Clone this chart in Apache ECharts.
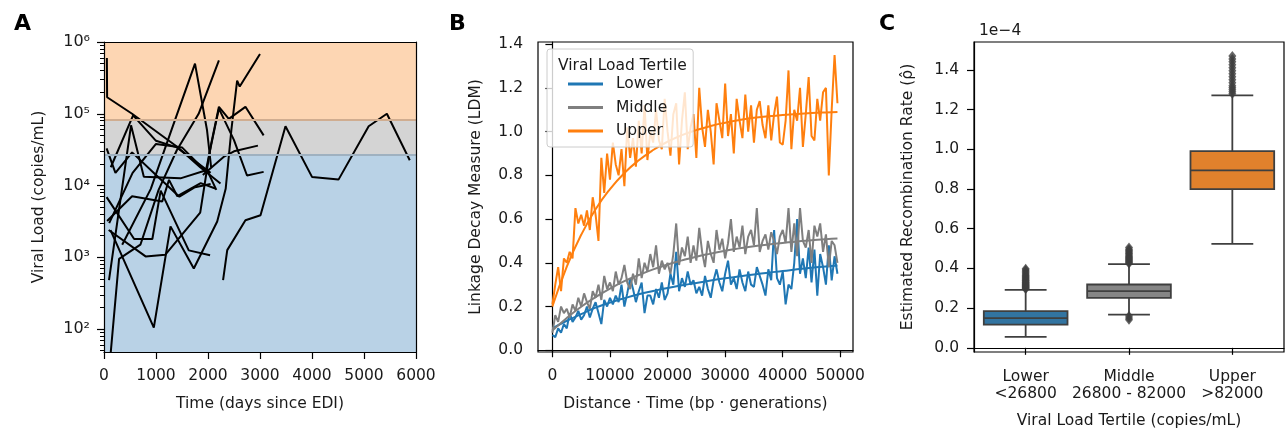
<!DOCTYPE html>
<html>
<head>
<meta charset="utf-8">
<script src="https://cdn.jsdelivr.net/npm/echarts@6/dist/echarts.min.js"></script>
<style>
html,body{margin:0;padding:0;background:#fff;}
#chart{width:1287px;height:430px;}
</style>
</head>
<body>
<div id="chart"></div>
<script>
// ---------- Panel A: viral load trajectories (days since EDI, copies/mL) ----------
const pt01 = [[55,600000],[60,170000],[540,100000],[1400,35000],[1850,18000],[2240,10700]];
const pt02 = [[130,18000],[560,95000],[1000,42000],[1400,34000],[2050,15000]];
const pt03 = [[125,2400],[958,105],[1279,2700],[1727,700],[2177,3160],[2340,9000],[2450,60000],[2560,290000],[2610,240000],[3000,680000]];
const pt04 = [[2290,480],[2370,1260],[2720,3290],[3010,3860],[3490,67000],[4000,13200],[4510,12100],[5090,67000],[5440,100000],[5880,22500]];
const pt05 = [[96,480],[520,69000],[766,13300],[1470,12600],[1980,16500],[2160,8700]];
const pt06 = [[50,33000],[220,15000],[540,29000],[1000,14000],[1450,7000],[1750,9500],[2050,10500]];
const pt07 = [[60,3200],[540,7100],[1120,6000],[1250,12000],[1410,7100],[1860,10800],[2140,9100]];
const pt08 = [[50,6900],[580,1800],[930,1800],[1090,8500],[1630,1250],[2040,1070]];
const pt09 = [[90,2400],[800,1030],[1180,1090],[1850,4200],[2050,35000],[2210,125000],[2400,85000],[2720,125000],[3070,50000]];
const pt10 = [[1950,15000],[2100,50000],[2210,118000],[2500,43000],[2750,13800],[3070,15500]];
const pt11 = [[1900,14000],[2300,25000],[2500,30000],[2960,36000]];
const pt12 = [[350,1500],[900,9000],[1300,60000],[1750,500000],[1980,60000],[2060,18000]];
const pt13 = [[128,46],[290,950],[700,1500],[1050,8700],[1400,31000],[1820,100000],[2210,556000]];
const pt14 = [[100,3000],[550,15000],[1000,38000],[1500,34000],[1950,16000]];
const patients = [pt01,pt02,pt03,pt04,pt05,pt06,pt07,pt08,pt09,pt10,pt11,pt12,pt13,pt14];
const tertileCuts = [26800, 82000];
const vlMajorTicks = [100, 1000, 10000, 100000, 1000000];
const vlMinorTicks = [50,60,70,80,90,200,300,400,500,600,700,800,900,2000,3000,4000,5000,6000,7000,8000,9000,
  20000,30000,40000,50000,60000,70000,80000,90000,200000,300000,400000,500000,600000,700000,800000,900000];
const daysTicks = [0,1000,2000,3000,4000,5000,6000];

// ---------- Panel B: linkage decay (x step 500 bp·gen) ----------
const ldmX = [];
for (let i = 0; i < 100; i++) ldmX.push(i * 500);
const ldmLower = [0.07,0.06,0.10,0.08,0.12,0.10,0.17,0.13,0.15,0.18,
  0.14,0.16,0.20,0.15,0.19,0.22,0.17,0.12,0.23,0.20,
  0.24,0.21,0.25,0.22,0.30,0.20,0.26,0.33,0.28,0.22,
  0.27,0.31,0.17,0.25,0.25,0.21,0.28,0.24,0.31,0.23,
  0.26,0.35,0.30,0.45,0.27,0.33,0.29,0.36,0.30,0.32,
  0.26,0.29,0.25,0.34,0.28,0.24,0.32,0.37,0.31,0.27,
  0.35,0.41,0.30,0.33,0.28,0.37,0.31,0.27,0.36,0.30,
  0.29,0.38,0.34,0.30,0.25,0.37,0.32,0.55,0.33,0.30,
  0.36,0.21,0.30,0.28,0.40,0.60,0.35,0.42,0.33,0.47,
  0.31,0.46,0.25,0.44,0.38,0.30,0.48,0.32,0.43,0.35];
const ldmMiddle = [0.08,0.16,0.13,0.20,0.17,0.19,0.15,0.21,0.18,0.24,
  0.20,0.26,0.22,0.19,0.27,0.24,0.30,0.23,0.34,0.28,
  0.31,0.27,0.36,0.30,0.33,0.39,0.31,0.28,0.35,0.30,
  0.42,0.33,0.40,0.36,0.44,0.38,0.48,0.35,0.41,0.37,
  0.40,0.35,0.44,0.58,0.39,0.47,0.43,0.52,0.40,0.48,
  0.41,0.56,0.45,0.38,0.50,0.44,0.40,0.55,0.46,0.51,
  0.42,0.49,0.60,0.45,0.52,0.47,0.57,0.44,0.52,0.55,
  0.48,0.65,0.45,0.50,0.53,0.46,0.54,0.50,0.44,0.52,
  0.55,0.49,0.65,0.45,0.58,0.43,0.65,0.50,0.47,0.55,
  0.40,0.57,0.52,0.58,0.45,0.53,0.38,0.50,0.48,0.40];
const ldmUpper = [0.21,0.30,0.38,0.27,0.42,0.40,0.45,0.42,0.65,0.58,
  0.62,0.57,0.64,0.55,0.70,0.62,0.50,0.88,0.72,0.90,
  0.78,0.95,0.85,0.80,0.92,0.75,1.02,0.88,0.97,0.84,
  1.05,0.90,1.12,0.87,1.00,0.95,1.10,0.96,0.92,1.15,
  1.00,0.89,1.08,1.13,0.85,1.05,1.18,0.92,1.02,1.08,
  0.88,1.20,1.02,0.93,1.10,1.00,0.85,1.13,1.05,0.97,
  1.22,0.98,1.08,0.90,1.15,1.05,0.97,1.17,1.00,1.12,
  0.95,1.10,1.14,1.03,0.97,1.12,0.96,1.08,1.16,0.95,
  0.94,1.05,1.28,0.92,1.10,1.05,1.20,0.93,1.08,1.25,
  0.98,0.96,1.15,1.05,1.18,1.20,0.80,1.10,1.35,1.13];
const fitX = [0,2500,5000,7500,10000,12500,15000,17500,20000,22500,25000,27500,30000,32500,35000,37500,40000,42500,45000,47500,49500];
const fitLower = [0.100,0.135,0.165,0.195,0.218,0.238,0.256,0.271,0.285,0.297,0.308,0.319,0.329,0.338,0.347,0.355,0.362,0.370,0.377,0.383,0.388];
const fitMiddle = [0.090,0.148,0.199,0.243,0.282,0.316,0.344,0.370,0.392,0.411,0.428,0.442,0.455,0.466,0.476,0.484,0.491,0.498,0.503,0.508,0.511];
const fitUpper = [0.200,0.383,0.528,0.645,0.737,0.811,0.869,0.916,0.954,0.984,1.007,1.026,1.041,1.053,1.063,1.070,1.076,1.081,1.085,1.088,1.090];
const ldmTicks = [0,10000,20000,30000,40000,50000];
const ldmYTicks = [0,0.2,0.4,0.6,0.8,1.0,1.2,1.4];

// ---------- Panel C: recombination rate boxplots (units of 1e-4) ----------
const tertileLabels = ['Lower\n<26800', 'Middle\n26800 - 82000', 'Upper\n>82000'];
// [whiskerLow, Q1, median, Q3, whiskerHigh]
const boxLower = [0.055, 0.117, 0.150, 0.185, 0.292];
const boxMiddle = [0.167, 0.252, 0.286, 0.319, 0.421];
const boxUpper = [0.523, 0.799, 0.894, 0.991, 1.271];
const outLower = [0.296,0.300,0.303,0.306,0.310,0.313,0.317,0.320,0.324,0.328,0.332,0.336,0.340,0.345,0.350,0.355,0.360,0.366,0.372,0.378,0.385,0.392,0.398];
const outMiddle = [0.425,0.430,0.435,0.440,0.445,0.450,0.455,0.460,0.466,0.472,0.478,0.484,0.490,0.497,0.505,0.160,0.150,0.142];
const outUpper = [1.280,1.290,1.300,1.310,1.320,1.335,1.350,1.365,1.380,1.395,1.410,1.425,1.440,1.455,1.470];
const rhoTicks = [0,0.2,0.4,0.6,0.8,1.0,1.2,1.4];

// ---------- styling ----------
const FONT = 'DejaVu Sans';
const FS = 15.5;
const TXT = '#1a1a1a';
const C_BLUE = '#1f77b4', C_GRAY = '#7f7f7f', C_ORANGE = '#ff7f0e';
const BOX_COLORS = ['#3274a1', '#858585', '#e1812c'];
const BOX_LINE = '#3f3f3f';
const SUP = {'0':'\u2070','1':'\u00b9','2':'\u00b2','3':'\u00b3','4':'\u2074','5':'\u2075','6':'\u2076','7':'\u2077','8':'\u2078','9':'\u2079'};

const gridA = {left:104, top:42, width:312, height:310};
const gridB = {left:538, top:42, width:315, height:310};
const gridC = {left:974, top:42, width:310, height:310};

const axisLineBlack = {show:true, lineStyle:{color:'#000', width:1.2}};
const tickOut = {show:true, inside:false, length:7, lineStyle:{color:'#000', width:1.2}};
const lbl = {color:TXT, fontFamily:FONT, fontSize:FS};
const nameStyle = {color:TXT, fontFamily:FONT, fontSize:FS};

const series = [];

// Panel A bands (drawn via a helper series)
series.push({
  type:'line', xAxisIndex:0, yAxisIndex:0, data:[], silent:true, z:1,
  markArea:{silent:true, data:[
    [{yAxis:tertileCuts[1], itemStyle:{color:'#fdd6b3'}}, {yAxis:1000000}],
    [{yAxis:tertileCuts[0], itemStyle:{color:'#d4d4d4'}}, {yAxis:tertileCuts[1]}],
    [{yAxis:48, itemStyle:{color:'#b9d2e6'}}, {yAxis:tertileCuts[0]}]
  ]},
  markLine:{silent:true, symbol:'none', label:{show:false}, data:[
    {yAxis:tertileCuts[1], lineStyle:{color:'#d0ad90', width:2, type:'solid'}},
    {yAxis:tertileCuts[0], lineStyle:{color:'#9fb1c0', width:2, type:'solid'}}
  ]}
});
patients.forEach((p, i) => {
  series.push({type:'line', name:'pt'+(i+1), xAxisIndex:0, yAxisIndex:0, data:p,
    showSymbol:false, symbol:'none', lineStyle:{color:'#000', width:2}, z:3, silent:true});
});

// Panel B
function zipXY(xs, ys){ return xs.map((x,i)=>[x, ys[i]]); }
const bSeries = [
  ['Lower', ldmLower, fitLower, C_BLUE],
  ['Middle', ldmMiddle, fitMiddle, C_GRAY],
  ['Upper', ldmUpper, fitUpper, C_ORANGE]
];
bSeries.forEach(([nm, ys, fy, col]) => {
  series.push({type:'line', name:nm, xAxisIndex:2, yAxisIndex:3, data:zipXY(ldmX, ys),
    showSymbol:false, symbol:'none', lineStyle:{color:col, width:2}, itemStyle:{color:col}, silent:true});
  series.push({type:'line', name:nm+' fit', xAxisIndex:2, yAxisIndex:3, data:zipXY(fitX, fy),
    smooth:true, showSymbol:false, symbol:'none', lineStyle:{color:col, width:2}, itemStyle:{color:col}, silent:true});
});

// Panel C boxes
const boxes = [boxLower, boxMiddle, boxUpper];
series.push({
  type:'custom', xAxisIndex:3, yAxisIndex:4, silent:true, z:3,
  data: boxes.map((b,i)=>[i].concat(b)),
  renderItem: function(params, api){
    const idx = api.value(0);
    const lo = api.coord([idx, api.value(1)]);
    const q1 = api.coord([idx, api.value(2)]);
    const md = api.coord([idx, api.value(3)]);
    const q3 = api.coord([idx, api.value(4)]);
    const hi = api.coord([idx, api.value(5)]);
    const bw = api.size([1, 0])[0] * 0.81;
    const half = bw/2, cap = bw/4, x = lo[0];
    const ls = {stroke:BOX_LINE, lineWidth:1.8};
    return {type:'group', children:[
      {type:'line', shape:{x1:x,y1:lo[1],x2:x,y2:q1[1]}, style:ls},
      {type:'line', shape:{x1:x,y1:q3[1],x2:x,y2:hi[1]}, style:ls},
      {type:'line', shape:{x1:x-cap,y1:lo[1],x2:x+cap,y2:lo[1]}, style:ls},
      {type:'line', shape:{x1:x-cap,y1:hi[1],x2:x+cap,y2:hi[1]}, style:ls},
      {type:'rect', shape:{x:x-half, y:q3[1], width:bw, height:q1[1]-q3[1]},
        style:{fill:BOX_COLORS[params.dataIndex], stroke:BOX_LINE, lineWidth:1.8}},
      {type:'line', shape:{x1:x-half,y1:md[1],x2:x+half,y2:md[1]}, style:ls}
    ]};
  }
});
const outliers = [outLower, outMiddle, outUpper];
outliers.forEach((arr, i) => {
  series.push({type:'scatter', xAxisIndex:3, yAxisIndex:4, silent:true, z:4,
    data: arr.map(v=>[i, v]), symbol:'diamond', symbolSize:[8,10],
    itemStyle:{color:BOX_LINE}});
});

const plain = v => String(v);

const option = {
  animation:false,
  backgroundColor:'#fff',
  textStyle:{fontFamily:FONT},
  title:[
    {text:'A', left:9, top:8, textStyle:{fontFamily:FONT, fontSize:22, fontWeight:'bold', color:'#000'}},
    {text:'B', left:444, top:8, textStyle:{fontFamily:FONT, fontSize:22, fontWeight:'bold', color:'#000'}},
    {text:'C', left:874, top:8, textStyle:{fontFamily:FONT, fontSize:22, fontWeight:'bold', color:'#000'}},
    {text:'1e\u22124', left:974, top:18, textStyle:{fontFamily:FONT, fontSize:FS, fontWeight:'normal', color:TXT}},
    {text:'Viral Load Tertile', left:553, top:53, z:12, textStyle:{fontFamily:FONT, fontSize:FS, fontWeight:'normal', color:TXT}}
  ],
  legend:{
    data:[{name:'Lower'},{name:'Middle'},{name:'Upper'}],
    orient:'vertical', left:547, top:49, z:11,
    icon:'rect', itemWidth:35, itemHeight:3, itemGap:7.5,
    padding:[27, 26, 8, 21],
    backgroundColor:'rgba(255,255,255,0.8)', borderColor:'#cccccc', borderWidth:1, borderRadius:3,
    textStyle:{fontFamily:FONT, fontSize:FS, color:TXT, padding:[0,0,0,8]},
    selectedMode:false
  },
  grid:[
    Object.assign({show:false, outerBoundsMode:'none', containLabel:false}, gridA),
    Object.assign({show:true, borderColor:'#000', borderWidth:1.2, backgroundColor:'transparent', outerBoundsMode:'none', containLabel:false}, gridB),
    Object.assign({show:true, borderColor:'#000', borderWidth:1.2, backgroundColor:'transparent', outerBoundsMode:'none', containLabel:false}, gridC)
  ],
  xAxis:[
    {gridIndex:0, type:'value', min:0, max:6000, interval:1000, position:'bottom', z:5,
      axisLine:axisLineBlack, axisTick:tickOut, splitLine:{show:false},
      axisLabel:Object.assign({margin:16, showMinLabel:true, showMaxLabel:true, formatter:plain}, lbl),
      name:'Time (days since EDI)', nameLocation:'middle', nameGap:44, nameTextStyle:nameStyle},
    {gridIndex:0, type:'value', min:0, max:6000, position:'top', z:5,
      axisLine:axisLineBlack, axisTick:{show:false}, axisLabel:{show:false}, splitLine:{show:false}},
    {gridIndex:1, type:'value', min:-2500, max:52200, position:'bottom',
      axisLine:axisLineBlack, axisTick:Object.assign({customValues:ldmTicks}, tickOut), splitLine:{show:false},
      axisLabel:Object.assign({margin:16, customValues:ldmTicks, formatter:plain}, lbl),
      name:'Distance \u00b7 Time (bp \u00b7 generations)', nameLocation:'middle', nameGap:44, nameTextStyle:nameStyle},
    {gridIndex:2, type:'category', data:tertileLabels, boundaryGap:true, position:'bottom',
      axisLine:axisLineBlack, axisTick:Object.assign({alignWithLabel:true, interval:0}, tickOut), splitLine:{show:false},
      axisLabel:Object.assign({margin:16, interval:0, lineHeight:17}, lbl),
      name:'Viral Load Tertile (copies/mL)', nameLocation:'middle', nameGap:61, nameTextStyle:nameStyle}
  ],
  yAxis:[
    {gridIndex:0, type:'log', logBase:10, min:48, max:1000000, position:'left', z:5,
      axisLine:axisLineBlack, axisTick:Object.assign({customValues:vlMajorTicks}, tickOut), splitLine:{show:false}, minorTick:{show:false},
      axisLabel:Object.assign({margin:14, customValues:vlMajorTicks,
        formatter:function(v){ const e = String(Math.round(Math.log10(v))); return '10' + e.split('').map(c=>SUP[c]).join(''); }}, lbl, {fontSize:16}),
      name:'Viral Load (copies/mL)', nameLocation:'middle', nameGap:57, nameRotate:90, nameTextStyle:nameStyle},
    {gridIndex:0, type:'log', logBase:10, min:48, max:1000000, position:'left', z:5,
      axisLine:{show:false}, axisTick:{show:true, customValues:vlMinorTicks, length:4, lineStyle:{color:'#000', width:1}},
      axisLabel:{show:false}, splitLine:{show:false}},
    {gridIndex:0, type:'value', min:0, max:1, position:'right', z:5,
      axisLine:axisLineBlack, axisTick:{show:false}, axisLabel:{show:false}, splitLine:{show:false}},
    {gridIndex:1, type:'value', min:-0.008, max:1.41, position:'left',
      axisLine:axisLineBlack, axisTick:Object.assign({customValues:ldmYTicks}, tickOut), splitLine:{show:false},
      axisLabel:Object.assign({margin:15, customValues:ldmYTicks, formatter:v=>v.toFixed(1)}, lbl),
      name:'Linkage Decay Measure (LDM)', nameLocation:'middle', nameGap:54, nameRotate:90, nameTextStyle:nameStyle},
    {gridIndex:2, type:'value', min:-0.021, max:1.54, position:'left',
      axisLine:axisLineBlack, axisTick:Object.assign({customValues:rhoTicks}, tickOut), splitLine:{show:false},
      axisLabel:Object.assign({margin:15, customValues:rhoTicks, formatter:v=>v.toFixed(1)}, lbl),
      name:'Estimated Recombination Rate (\u03c1\u0302)', nameLocation:'middle', nameGap:58, nameRotate:90, nameTextStyle:nameStyle}
  ],
  series: series
};

const chart = echarts.init(document.getElementById('chart'), null, {renderer:'canvas'});
chart.setOption(option);
</script>
</body>
</html>
